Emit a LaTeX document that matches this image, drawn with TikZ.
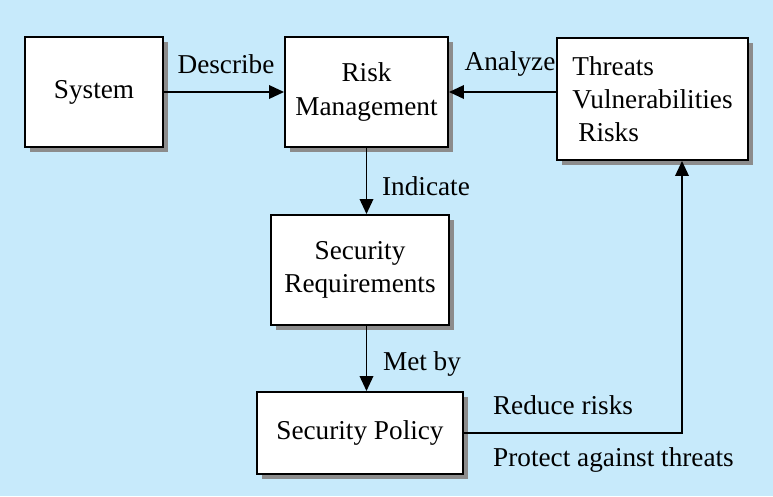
\documentclass[tikz,border=0pt]{standalone}
\usepackage{fontspec}
\setmainfont{Liberation Serif}
\usepackage{tikz}
\usetikzlibrary{arrows.meta,shadows,positioning}
\usepackage{xcolor}
\definecolor{bgblue}{RGB}{199,234,251}

\tikzset{
  block/.style={draw=black, fill=white, line width=1.1pt, align=center,
    drop shadow={shadow xshift=0.09cm, shadow yshift=-0.09cm, fill=gray!90, opacity=1}},
  link/.style={line width=1.1pt, -{Triangle[length=0.3cm,width=0.27cm]}},
  tag/.style={inner sep=0pt}
}

\begin{document}
\begin{tikzpicture}[font=\fontsize{15.5}{18.8}\selectfont]
\fill[bgblue] (0.000000,0.000000) rectangle (15.460000,-9.920000);
\useasboundingbox (0.000000,0.000000) rectangle (15.460000,-9.920000);

%System
\node[block, minimum width=2.760000cm, minimum height=2.200000cm] (system) at (1.880000,-1.840000) {System};

%Risk management
\node[block, minimum width=3.260000cm, minimum height=2.200000cm] (risk) at (7.330000,-1.840000) {Risk\\Management};

%Threats, vulnerabilities, risks
\node[block, align=left, minimum width=3.820000cm, minimum height=2.440000cm] (threats) at (13.050000,-1.980000) {Threats\\Vulnerabilities\\\hspace{0.12cm}Risks};

%Security requirements
\node[block, minimum width=3.560000cm, minimum height=2.200000cm] (secreq) at (7.200000,-5.400000) {Security\\Requirements};

%Security policy
\node[block, minimum width=4.120000cm, minimum height=1.640000cm] (policy) at (7.200000,-8.660000) {Security Policy};

\coordinate (corner) at (13.640000,-8.660000);

\draw[link] (system) -- (risk);
\draw[link] (threats.west |- risk) -- (risk.east);
\draw[link] (risk.south) -- (risk.south |- secreq.north);
\draw[link] (risk.south |- secreq.south) -- (risk.south |- policy.north);
\draw[link] (policy.east) -- (corner) -- (corner |- threats.south);

%Labels
\node[tag] (ldescribe) at (4.520000,-1.280000) {Describe};
\node[tag] (lanalyze) at (10.200000,-1.280000) {Analyze};
\node[tag] (lindicate) at (8.520000,-3.720000) {Indicate};
\node[tag] (lmetby) at (8.440000,-7.280000) {Met by};
\node[tag] (lreduce) at (11.260000,-8.100000) {Reduce risks};
\node[tag] (lprotect) at (12.270000,-9.200000) {Protect against threats};
\end{tikzpicture}
\end{document}
